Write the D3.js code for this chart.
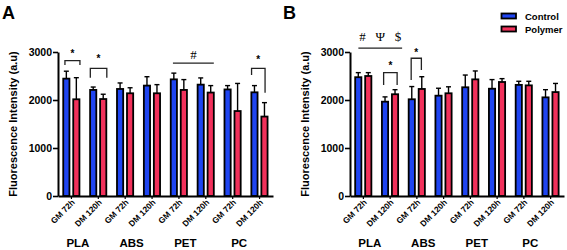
<!DOCTYPE html>
<html>
<head>
<meta charset="utf-8">
<script src="https://d3js.org/d3.v7.min.js"></script>
<style>
  body { margin: 0; background: #fff; }
  svg text { font-family: "Liberation Sans", Arial, sans-serif; font-weight: bold; fill: #000; }
</style>
</head>
<body>
<svg id="chart" width="567" height="250"></svg>
<script>
// conditions on the x axis (two per polymer)
var conditions = ["GM 72h", "DM 120h", "GM 72h", "DM 120h", "GM 72h", "DM 120h", "GM 72h", "DM 120h"];
var polymers = ["PLA", "ABS", "PET", "PC"];
var yTicks = [0, 1000, 2000, 3000];
var seriesNames = ["Control", "Polymer"];
var colors = ["#1f45f2", "#f2315b"];

// panel A
var aControl = [2445, 2210, 2230, 2300, 2430, 2320, 2220, 2160];
var aControlSd = [155, 60, 125, 185, 130, 140, 80, 140];
var aPolymer = [2015, 2020, 2140, 2140, 2210, 2155, 1770, 1655];
var aPolymerSd = [450, 100, 115, 180, 215, 145, 575, 290];

// panel B
var bControl = [2475, 1965, 2015, 2090, 2265, 2235, 2315, 2055];
var bControlSd = [95, 100, 265, 155, 255, 190, 75, 160];
var bPolymer = [2500, 2120, 2230, 2140, 2430, 2375, 2305, 2165];
var bPolymerSd = [70, 95, 255, 135, 175, 70, 85, 180];

// significance marks: g0/g1 = bar group, dx offsets from group centre, levels in data units
var aMarks = [
  {g0: 0, g1: 0, dx0: -6.5, dx1: 8.5, top: 2820, leg0: 2730, leg1: 2730, label: "*", labelY: 2900},
  {g0: 1, g1: 1, dx0: -8, dx1: 8.5, top: 2660, leg0: 2465, leg1: 2465, label: "*", labelY: 2790},
  {g0: 4, g1: 5, dx0: -6, dx1: 8, top: 2770, leg0: 2770, leg1: 2770, label: "#", labelY: 2860},
  {g0: 7, g1: 7, dx0: -8, dx1: 5.5, top: 2660, leg0: 2520, leg1: 2150, label: "*", labelY: 2770}
];
var bMarks = [
  {g0: 0, g1: 1, dx0: -5, dx1: 12, top: 3080, leg0: 3080, leg1: 3080, label: "#   \u03A8   $", labelY: 3230},
  {g0: 1, g1: 1, dx0: -6.5, dx1: 7, top: 2570, leg0: 2310, leg1: 2310, label: "*", labelY: 2650},
  {g0: 2, g1: 2, dx0: -5.7, dx1: 4.5, top: 2870, leg0: 2415, leg1: 2625, label: "*", labelY: 2915}
];

var svg = d3.select("#chart");

function drawPanel(opts)
{
  var g = svg.append("g");
  var x = d3.scaleBand().domain(d3.range(conditions.length)).range([opts.x0, opts.x1]);
  var y = d3.scaleLinear().domain([0, 3000]).range([196, 52]);

  // y axis
  var yAxis = g.append("g")
    .attr("transform", "translate(" + opts.x0 + ",0)")
    .call(d3.axisLeft(y).tickValues(yTicks).tickFormat(d3.format("d")).tickSize(5).tickSizeOuter(0).tickPadding(1));
  yAxis.select(".domain").attr("stroke-width", 2);
  yAxis.selectAll(".tick line").attr("stroke-width", 1.6);
  yAxis.selectAll("text").style("font-size", "10.5px");

  // bars
  var series = [
    {vals: opts.control, sd: opts.controlSd, dx: -9, color: colors[0]},
    {vals: opts.polymer, sd: opts.polymerSd, dx: 1, color: colors[1]}
  ];
  series.forEach(function(s) {
    var bw = 7.8;
    var grp = g.append("g");
    var cx = function(d, i) { return x(i) + x.bandwidth() / 2 + s.dx + 0.8; };
    // error bars (upper only)
    grp.selectAll("line.err").data(s.vals).enter().append("line")
      .attr("x1", function(d, i) { return cx(d, i) + bw / 2 - 0.8; })
      .attr("x2", function(d, i) { return cx(d, i) + bw / 2 - 0.8; })
      .attr("y1", function(d) { return y(d); })
      .attr("y2", function(d, i) { return y(d + s.sd[i]); })
      .attr("stroke", "#000").attr("stroke-width", 1.4);
    grp.selectAll("line.cap").data(s.vals).enter().append("line")
      .attr("x1", function(d, i) { return cx(d, i) + bw / 2 - 3.3; })
      .attr("x2", function(d, i) { return cx(d, i) + bw / 2 + 1.7; })
      .attr("y1", function(d, i) { return y(d + s.sd[i]); })
      .attr("y2", function(d, i) { return y(d + s.sd[i]); })
      .attr("stroke", "#000").attr("stroke-width", 1.4);
    grp.selectAll("rect").data(s.vals).enter().append("rect")
      .attr("x", function(d, i) { return cx(d, i); })
      .attr("y", function(d) { return y(d); })
      .attr("width", bw - 1.6)
      .attr("height", function(d) { return y(0) - y(d); })
      .attr("fill", s.color)
      .attr("stroke", "#000")
      .attr("stroke-width", 1.8);
  });

  // x axis
  var xAxis = g.append("g")
    .attr("transform", "translate(0,196)")
    .call(d3.axisBottom(x).tickSize(3).tickSizeOuter(0).tickFormat(function(i) { return conditions[i]; }));
  xAxis.select(".domain").attr("stroke-width", 2);
  xAxis.selectAll(".tick line").attr("stroke-width", 1.2);
  xAxis.selectAll("text")
    .style("font-size", "8.3px")
    .attr("text-anchor", "end")
    .attr("dy", null)
    .attr("y", 0)
    .attr("transform", "translate(4,7) rotate(-45)");

  // polymer group labels
  g.selectAll("text.poly").data(polymers).enter().append("text")
    .attr("class", "poly")
    .attr("x", function(d, i) { return (x(i * 2) + x(i * 2 + 1) + x.bandwidth()) / 2 - 7; })
    .attr("y", 247)
    .attr("text-anchor", "middle")
    .style("font-size", "11.5px")
    .text(function(d) { return d; });

  // y title
  g.append("text")
    .attr("transform", "translate(" + opts.titleX + ",124) rotate(-90)")
    .attr("text-anchor", "middle")
    .style("font-size", "11px")
    .text("Fluorescence Intensity (a.u)");

  // panel letter
  g.append("text")
    .attr("x", opts.letterX).attr("y", 19)
    .style("font-size", "18px")
    .text(opts.letter);

  // significance marks
  opts.marks.forEach(function(m) {
    var xa = x(m.g0) + x.bandwidth() / 2 + m.dx0;
    var xb = x(m.g1) + x.bandwidth() / 2 + m.dx1;
    g.append("path")
      .attr("d", "M" + xa + "," + y(m.leg0) + "V" + y(m.top) + "H" + xb + "V" + y(m.leg1))
      .attr("fill", "none")
      .attr("stroke", "#222")
      .attr("stroke-width", 1.3);
    g.append("text")
      .attr("x", (xa + xb) / 2)
      .attr("y", y(m.labelY))
      .attr("text-anchor", "middle")
      .style("font-size", m.label == "*" ? "10px" : "13px")
      .style("font-weight", m.label == "*" ? "bold" : "normal")
      .style("font-family", m.label == "*" ? null : "'Liberation Serif', serif")
      .attr("xml:space", "preserve")
      .text(m.label);
  });
}

drawPanel({x0: 58, x1: 273, control: aControl, controlSd: aControlSd, polymer: aPolymer, polymerSd: aPolymerSd,
  marks: aMarks, titleX: 17, letter: "A", letterX: 2});
drawPanel({x0: 350, x1: 564, control: bControl, controlSd: bControlSd, polymer: bPolymer, polymerSd: bPolymerSd,
  marks: bMarks, titleX: 309, letter: "B", letterX: 283});

// legend
var legend = svg.append("g");
seriesNames.forEach(function(name, i) {
  legend.append("rect")
    .attr("x", 501.5).attr("y", 13.5 + i * 13)
    .attr("width", 14.5).attr("height", 5)
    .attr("fill", colors[i]).attr("stroke", "#000").attr("stroke-width", 1.8);
  legend.append("text")
    .attr("x", 525).attr("y", 19.5 + i * 13)
    .style("font-size", "9.5px")
    .text(name);
});
</script>
</body>
</html>
